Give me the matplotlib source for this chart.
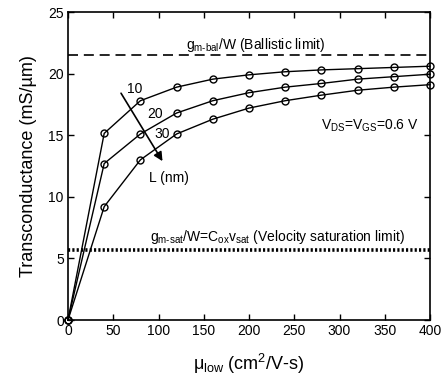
import matplotlib
matplotlib.use("Agg")
import matplotlib.pyplot as plt

plt.rcParams['font.family'] = ['Liberation Sans', 'DejaVu Sans']
plt.rcParams['mathtext.fontset'] = 'custom'
plt.rcParams['mathtext.rm'] = 'Liberation Sans'
plt.rcParams['mathtext.it'] = 'Liberation Sans'

mu_low = [0, 40, 80, 120, 160, 200, 240, 280, 320, 360, 400]
gm_L10 = [0, 15.15, 17.8, 18.9, 19.55, 19.9, 20.15, 20.3, 20.4, 20.5, 20.6]
gm_L20 = [0, 12.7, 15.1, 16.8, 17.8, 18.45, 18.9, 19.2, 19.55, 19.75, 19.95]
gm_L30 = [0, 9.2, 13.0, 15.1, 16.3, 17.2, 17.8, 18.25, 18.65, 18.9, 19.1]
lengths = ["10", "20", "30"]
gm_ballistic = 21.5
gm_vsat = 5.72

fig = plt.figure(figsize=(4.43, 3.79), dpi=100)
ax = fig.add_axes([68 / 443, 1 - 320 / 379, 362 / 443, 308 / 379])

for ys in (gm_L10, gm_L20, gm_L30):
    ax.plot(mu_low, ys, color="black", linewidth=1.0, marker="o", markersize=5,
            markerfacecolor="none", markeredgewidth=1.0, clip_on=False, zorder=3)

ax.axhline(gm_ballistic, color="black", linewidth=1.2, linestyle=(0, (6, 3.5)))
ax.axhline(gm_vsat, color="black", linewidth=2.6, linestyle=(0, (0.6, 0.6)))

ax.text(207, 22.3, r"g$_{\mathrm{m\text{-}bal}}$/W (Ballistic limit)", fontsize=10,
        ha="center", va="center")
ax.text(231, 6.7, r"g$_{\mathrm{m\text{-}sat}}$/W=C$_{\mathrm{ox}}$v$_{\mathrm{sat}}$ (Velocity saturation limit)",
        fontsize=10, ha="center", va="center")
ax.text(333, 15.8, r"V$_{\mathrm{DS}}$=V$_{\mathrm{GS}}$=0.6 V", fontsize=10,
        ha="center", va="center")

ax.text(74, 18.75, lengths[0], fontsize=10, ha="center", va="center")
ax.text(96, 16.7, lengths[1], fontsize=10, ha="center", va="center")
ax.text(104, 15.1, lengths[2], fontsize=10, ha="center", va="center")
ax.text(90, 11.5, "L (nm)", fontsize=10, ha="left", va="center")
ax.annotate("", xy=(106, 12.7), xytext=(57, 18.6),
            arrowprops=dict(arrowstyle="-|>", color="black", linewidth=1.2,
                            mutation_scale=13))

ax.set_xlim(0, 400)
ax.set_ylim(0, 25)
ax.set_xticks(range(0, 401, 50))
ax.set_yticks(range(0, 26, 5))
ax.tick_params(direction="in", top=True, right=True, length=4, width=1,
               labelsize=10, pad=3)
for s in ax.spines.values():
    s.set_linewidth(1.2)

ax.set_xlabel(r"$\mu_{\mathrm{low}}$ (cm$^2$/V-s)", fontsize=13, labelpad=10)
ax.set_ylabel("Transconductance (mS/\u00b5m)", fontsize=13, labelpad=8)

fig.savefig("out.png", dpi=100)
